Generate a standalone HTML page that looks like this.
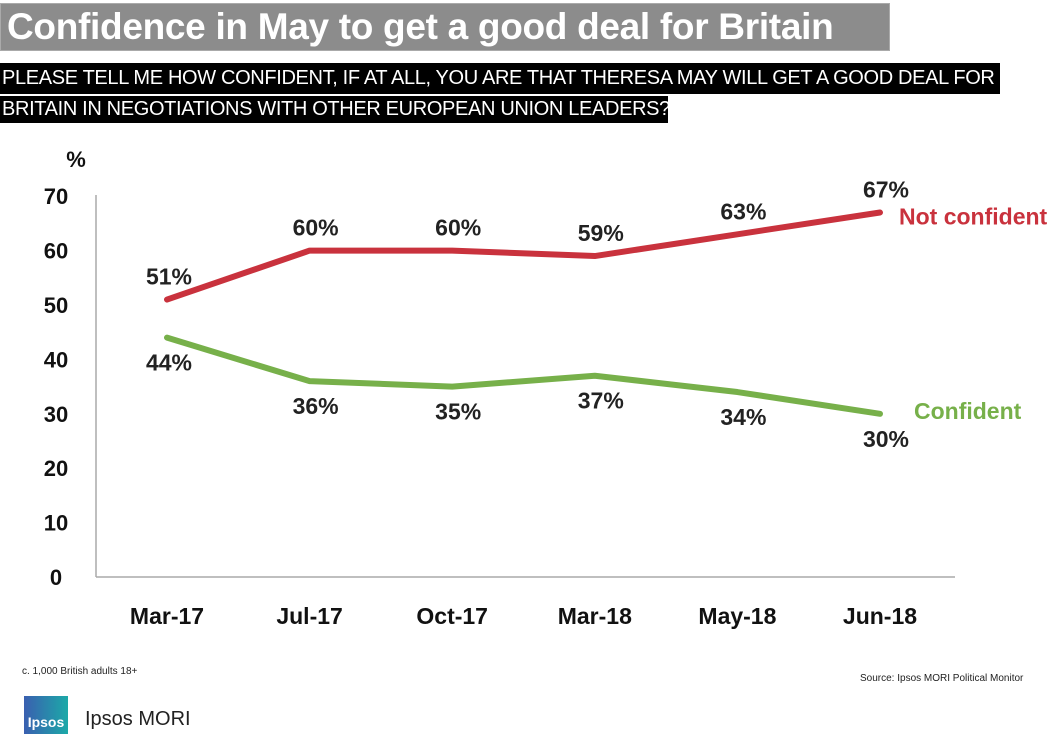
<!DOCTYPE html>
<html><head><meta charset="utf-8"><style>
body{margin:0;width:1061px;height:734px;background:#fff;overflow:hidden;font-family:"Liberation Sans",sans-serif;position:relative}
.t{position:absolute;left:0;top:3px;width:890px;height:48px;background:#8c8c8c;border:1px solid #aaa;box-sizing:border-box;color:#fff;font-weight:bold;font-size:37px;line-height:46px;padding-left:6px;white-space:nowrap;letter-spacing:-0.3px}
.s{position:absolute;left:0;background:#000;color:#fff;font-size:20px;white-space:nowrap;padding-left:2px;letter-spacing:-0.35px;transform-origin:0 0}
.f{position:absolute;font-size:10px;color:#222}
</style></head><body>
<div class="t">Confidence in May to get a good deal for Britain</div>
<div class="s" style="top:63px;height:31px;line-height:31px;width:998px">PLEASE TELL ME HOW CONFIDENT, IF AT ALL, YOU ARE THAT THERESA MAY WILL GET A GOOD DEAL FOR</div>
<div class="s" style="top:96px;height:27px;line-height:27px;width:666px">BRITAIN IN NEGOTIATIONS WITH OTHER EUROPEAN UNION LEADERS?</div>
<svg id="c" width="1061" height="734" style="position:absolute;left:0;top:0"></svg>
<div class="f" style="left:22px;top:666px">c. 1,000 British adults 18+</div>
<div class="f" style="left:860px;top:673px">Source: Ipsos MORI Political Monitor</div>
<div style="position:absolute;left:24px;top:696px;width:44px;height:38px;background:linear-gradient(90deg,#3a5fb0,#1ca9a8);color:#fff;font-size:14px;font-weight:bold;line-height:52px;text-align:center">Ipsos</div>
<div style="position:absolute;left:85px;top:708px;font-size:20px;color:#222">Ipsos MORI</div>
<script>
const categories=["Mar-17","Jul-17","Oct-17","Mar-18","May-18","Jun-18"];
const notConfident=[51,60,60,59,63,67];
const confident=[44,36,35,37,34,30];
const yTicks=[0,10,20,30,40,50,60,70];
const NS="http://www.w3.org/2000/svg";
const svg=document.getElementById('c');
const x=i=>167+i*142.6;
const y=v=>577-v*5.44;
function mk(t,a,txt){const e=document.createElementNS(NS,t);for(const k in a)e.setAttribute(k,a[k]);if(txt!==undefined)e.textContent=txt;svg.appendChild(e);return e;}
let e;
e=mk('line',{x1:96,y1:195,x2:96,y2:577,stroke:'#aaa','stroke-width':1.5});


e=mk('line',{x1:96,y1:577,x2:955,y2:577,stroke:'#aaa','stroke-width':1.5});


e=mk('text',{x:76,y:167,'text-anchor':'middle','font-size':22,'font-weight':'bold',fill:'#111'},'%');


yTicks.forEach(v=>{e=mk('text',{x:56,y:y(v)+8,'text-anchor':'middle','font-size':22,'font-weight':'bold',fill:'#111'},v);

});
categories.forEach((c,i)=>{e=mk('text',{x:x(i),y:624,'text-anchor':'middle','font-size':23,'font-weight':'bold',fill:'#111'},c);

});
function series(vals,col,name,above){
 e=mk('polyline',{points:vals.map((v,i)=>x(i)+','+y(v)).join(' '),fill:'none',stroke:col,'stroke-width':6,'stroke-linejoin':'round','stroke-linecap':'round'});
 
 
 vals.forEach((v,i)=>{let ab=above;if(name==='confident'&&i===0)ab=false;
  const ty=ab?y(v)-15:y(v)+33;const tx=x(i)+(i===0?2:6);
  e=mk('text',{x:tx,y:ty,'text-anchor':'middle','font-size':23,'font-weight':'bold',fill:'#222'},v+'%');
  
  });
}
series(notConfident,'#c9323d','not-confident',true);
series(confident,'#77b04a','confident',false);
e=mk('text',{x:899,y:y(notConfident[5])+12,'font-size':23,'font-weight':'bold',fill:'#c9323d'},'Not confident');


e=mk('text',{x:914,y:y(confident[5])+5,'font-size':23,'font-weight':'bold',fill:'#77b04a'},'Confident');


</script>
</body></html>
